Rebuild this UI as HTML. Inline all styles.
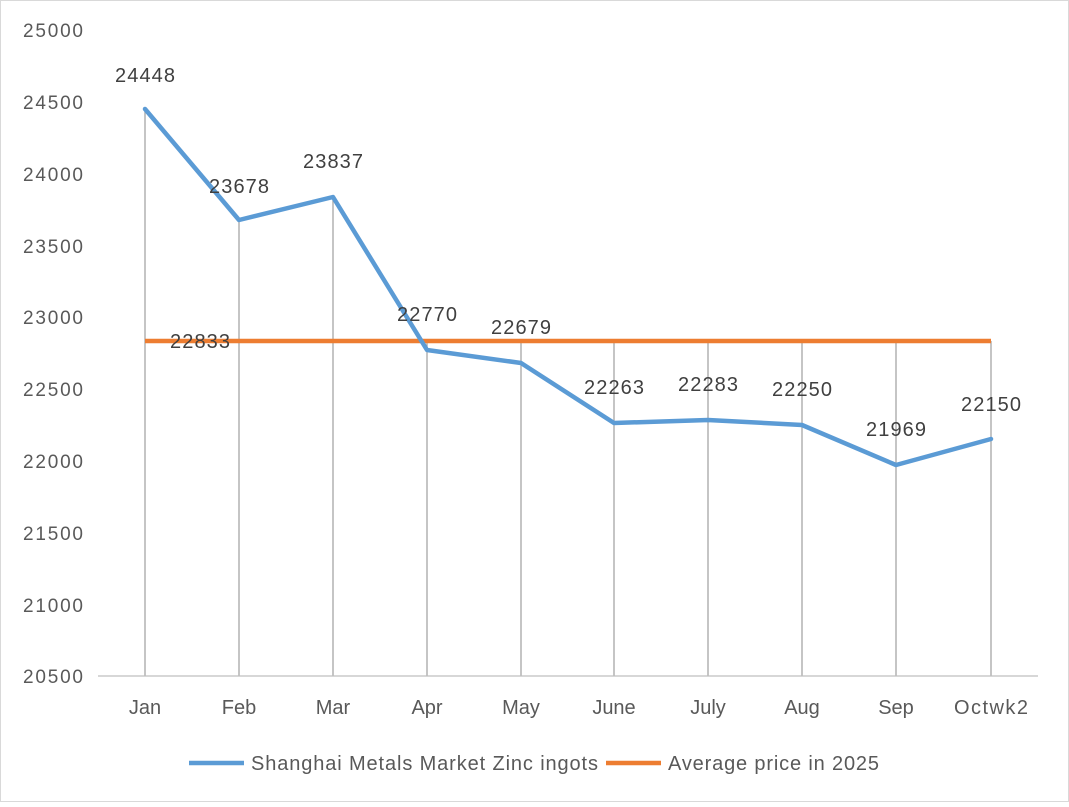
<!DOCTYPE html>
<html><head><style>body{margin:0;background:#fff}</style></head><body>
<svg width="1069" height="802" xmlns="http://www.w3.org/2000/svg" font-family="Liberation Sans, sans-serif">
<rect x="0.5" y="0.5" width="1068" height="801" fill="#fff" stroke="#d9d9d9"/>
<g font-size="19" fill="#595959" text-anchor="end">
<text x="83" y="37" textLength="60">25000</text><text x="83" y="109" textLength="60">24500</text><text x="83" y="181" textLength="60">24000</text>
<text x="83" y="253" textLength="60">23500</text><text x="83" y="324" textLength="60">23000</text><text x="83" y="396" textLength="60">22500</text>
<text x="83" y="468" textLength="60">22000</text><text x="83" y="540" textLength="60">21500</text><text x="83" y="612" textLength="60">21000</text>
<text x="83" y="683" textLength="60">20500</text></g>
<g stroke="#a6a6a6" stroke-width="1.3">
<line x1="145" y1="109" x2="145" y2="676"/><line x1="239" y1="220" x2="239" y2="676"/>
<line x1="333" y1="197" x2="333" y2="676"/><line x1="427" y1="341" x2="427" y2="676"/>
<line x1="521" y1="341" x2="521" y2="676"/><line x1="614" y1="341" x2="614" y2="676"/>
<line x1="708" y1="341" x2="708" y2="676"/><line x1="802" y1="341" x2="802" y2="676"/>
<line x1="896" y1="341" x2="896" y2="676"/><line x1="991" y1="341" x2="991" y2="676"/>
</g>
<line x1="98" y1="676" x2="1038" y2="676" stroke="#bfbfbf" stroke-width="1.3"/>
<line x1="145" y1="341" x2="991" y2="341" stroke="#ed7d31" stroke-width="4.5"/>
<polyline fill="none" stroke="#5b9bd5" stroke-width="4.5" stroke-linejoin="round" stroke-linecap="round" points="145,109 239,220 333,197 427,350 521,363 614,423 708,420 802,425 896,465 991,439"/>
<g font-size="20" fill="#404040" text-anchor="middle">
<text x="145" y="82" textLength="60">24448</text><text x="239" y="193" textLength="60">23678</text><text x="333" y="168" textLength="60">23837</text>
<text x="427" y="321" textLength="60">22770</text><text x="521" y="334" textLength="60">22679</text><text x="614" y="394" textLength="60">22263</text>
<text x="708" y="391" textLength="60">22283</text><text x="802" y="396" textLength="60">22250</text><text x="896" y="436" textLength="60">21969</text>
<text x="991" y="411" textLength="60">22150</text><text x="200" y="348" textLength="60">22833</text></g>
<g font-size="20" fill="#595959" text-anchor="middle">
<text x="145" y="714">Jan</text><text x="239" y="714">Feb</text><text x="333" y="714">Mar</text>
<text x="427" y="714">Apr</text><text x="521" y="714">May</text><text x="614" y="714">June</text>
<text x="708" y="714">July</text><text x="802" y="714">Aug</text><text x="896" y="714">Sep</text>
<text x="991" y="714" textLength="74">Octwk2</text></g>
<line x1="189" y1="763" x2="244" y2="763" stroke="#5b9bd5" stroke-width="4.5"/>
<text x="251" y="770" font-size="20" fill="#595959" textLength="347">Shanghai Metals Market Zinc ingots</text>
<line x1="606" y1="763" x2="661" y2="763" stroke="#ed7d31" stroke-width="4.5"/>
<text x="668" y="770" font-size="20" fill="#595959" textLength="211">Average price in 2025</text>
</svg>
</body></html>
